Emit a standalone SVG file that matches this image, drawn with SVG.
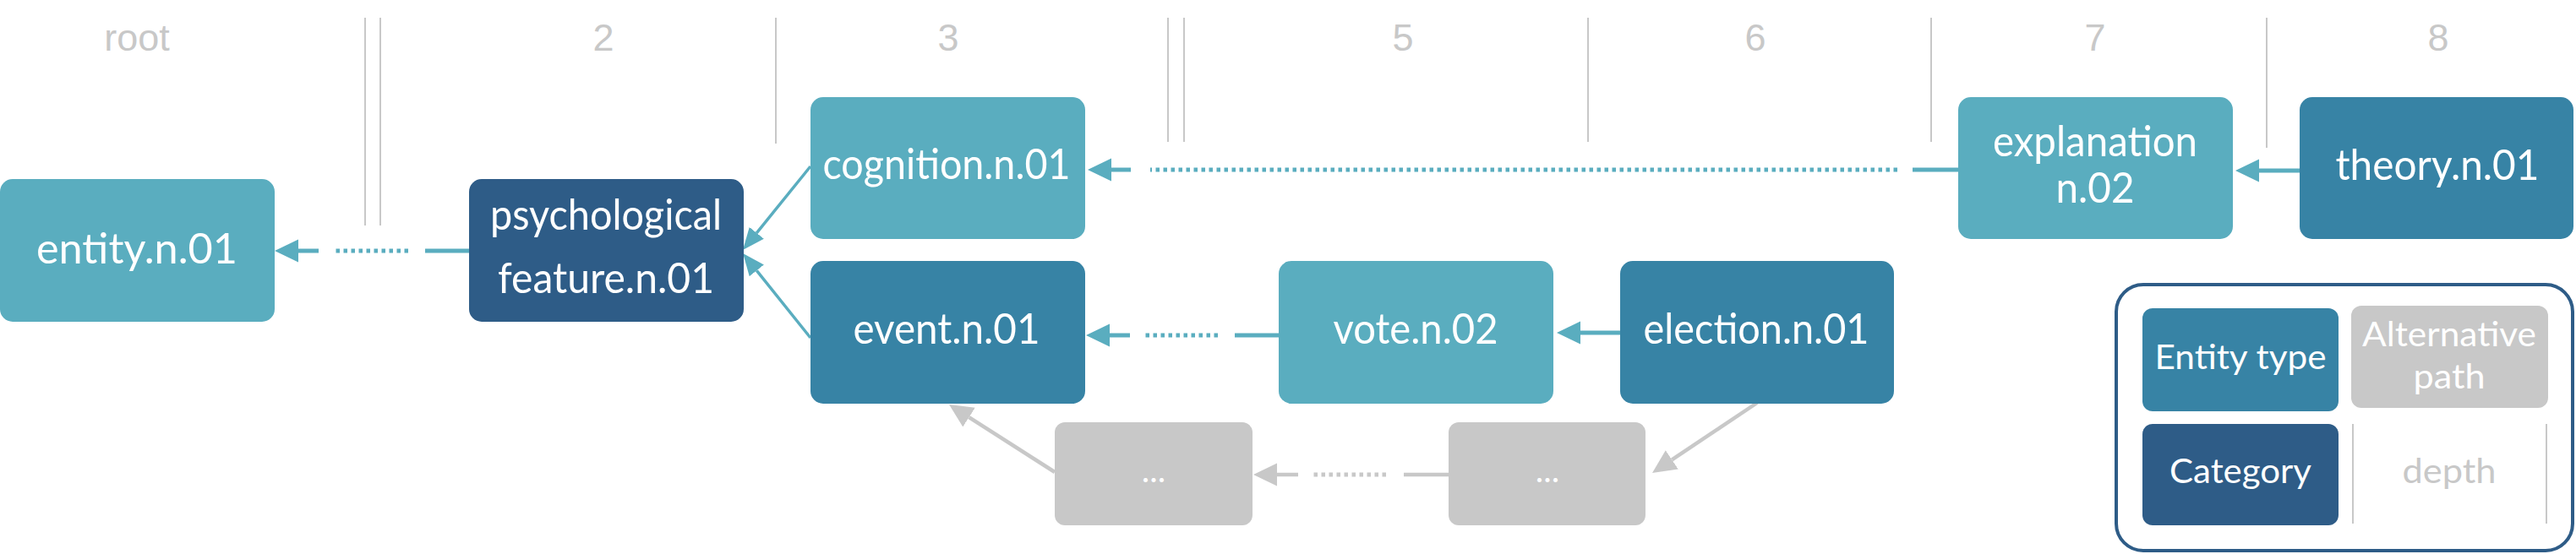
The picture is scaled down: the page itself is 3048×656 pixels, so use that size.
<svg xmlns="http://www.w3.org/2000/svg" width="3048" height="656" viewBox="0 0 3048 656">
<style>
.hdr{font-family:"Liberation Sans",Arial,sans-serif;font-size:45px;fill:#C8C8C8;text-anchor:middle}
.sep{stroke:#C8C8C8;stroke-width:2;fill:none}
.nt{font-family:Lato,"Open Sans",sans-serif;font-size:50px;fill:#FFFFFF;text-anchor:middle}
.lt{font-family:Lato,"Open Sans",sans-serif;font-size:41px;fill:#FFFFFF;text-anchor:middle}
.light{fill:#5AADBF}
.mid{fill:#3783A5}
.dark{fill:#2E5C87}
.grey{fill:#C8C8C8}
.tl{stroke:#5AADBF;stroke-width:5;fill:none}
.td{stroke:#5AADBF;stroke-width:5;fill:none;stroke-dasharray:4.5 4.5}
.tdiag{stroke:#5AADBF;stroke-width:3.5;fill:none}
.gl{stroke:#C8C8C8;stroke-width:4.5;fill:none}
.gd{stroke:#C8C8C8;stroke-width:5;fill:none;stroke-dasharray:4.5 4.5}
</style>
<defs>
<marker id="ahT" viewBox="0 -14 28 28" refX="0" refY="0" markerWidth="28" markerHeight="28" markerUnits="userSpaceOnUse" orient="auto"><path d="M0,-13.5 L28,0 L0,13.5 z" fill="#5AADBF"/></marker>
<marker id="ahTs" viewBox="0 -12 26 24" refX="0" refY="0" markerWidth="26" markerHeight="24" markerUnits="userSpaceOnUse" orient="auto"><path d="M0,-11 L26,0 L0,11 z" fill="#5AADBF"/></marker>
<marker id="ahG" viewBox="0 -14 28 28" refX="0" refY="0" markerWidth="28" markerHeight="28" markerUnits="userSpaceOnUse" orient="auto"><path d="M0,-13.5 L28,0 L0,13.5 z" fill="#C8C8C8"/></marker>
</defs>

<g id="depth-header">
<text class="hdr" x="162" y="60">root</text>
<text class="hdr" x="714" y="60">2</text>
<text class="hdr" x="1122" y="60">3</text>
<text class="hdr" x="1660" y="60">5</text>
<text class="hdr" x="2077" y="60">6</text>
<text class="hdr" x="2479" y="60">7</text>
<text class="hdr" x="2885" y="60">8</text>
<path class="sep" d="M432,21 V267 M450,21 V267 M918,21 V170 M1382,21 V168 M1401,21 V168 M1879,21 V168 M2285,21 V168 M2682,21 V175"/>
</g>

<g id="connectors">
<g id="c-psych-entity"><path class="tl" d="M555,297 H503"/><path class="td" d="M483,297 H396"/><path class="tl" d="M377,297 H353" marker-end="url(#ahT)"/></g>
<g id="c-cognition-psych"><path class="tdiag" d="M959,197 L895.3,275.8" marker-end="url(#ahTs)"/></g>
<g id="c-event-psych"><path class="tdiag" d="M959,400 L895.3,320.3" marker-end="url(#ahTs)"/></g>
<g id="c-explanation-cognition"><path class="tl" d="M2317,201 H2263"/><path class="td" d="M2245,201 H1361"/><path class="tl" d="M1338,201 H1315" marker-end="url(#ahT)"/></g>
<g id="c-vote-event"><path class="tl" d="M1513,397 H1461"/><path class="td" d="M1441,397 H1353"/><path class="tl" d="M1337,397 H1313" marker-end="url(#ahT)"/></g>
<g id="c-election-vote"><path class="tl" d="M1917,394 H1870" marker-end="url(#ahT)"/></g>
<g id="c-theory-explanation"><path class="tl" d="M2721,202 H2673" marker-end="url(#ahT)"/></g>
<g id="c-election-alt2"><path class="gl" d="M2079,477 L1978.3,544.4" marker-end="url(#ahG)"/></g>
<g id="c-alt2-alt1"><path class="gl" d="M1714,562 H1661"/><path class="gd" d="M1640,562 H1553"/><path class="gl" d="M1536,562 H1511" marker-end="url(#ahG)"/></g>
<g id="c-alt1-event"><path class="gl" d="M1248,559 L1146.6,494.1" marker-end="url(#ahG)"/></g>
</g>

<g id="n-entity"><rect class="light" x="0" y="212" width="325" height="169" rx="15"/><text class="nt" x="162" y="312" textLength="238" lengthAdjust="spacingAndGlyphs">entity.n.01</text></g>
<g id="n-psych"><rect class="dark" x="555" y="212" width="325" height="169" rx="15"/><text class="nt" x="717" y="272" textLength="274" lengthAdjust="spacingAndGlyphs">psychological</text><text class="nt" x="717" y="347" textLength="256" lengthAdjust="spacingAndGlyphs">feature.n.01</text></g>
<g id="n-cognition"><rect class="light" x="959" y="115" width="325" height="168" rx="15"/><text class="nt" x="1120" y="212" textLength="293" lengthAdjust="spacingAndGlyphs">cognition.n.01</text></g>
<g id="n-event"><rect class="mid" x="959" y="309" width="325" height="169" rx="15"/><text class="nt" x="1120" y="407" textLength="221" lengthAdjust="spacingAndGlyphs">event.n.01</text></g>
<g id="n-vote"><rect class="light" x="1513" y="309" width="325" height="169" rx="15"/><text class="nt" x="1675" y="407" textLength="195" lengthAdjust="spacingAndGlyphs">vote.n.02</text></g>
<g id="n-election"><rect class="mid" x="1917" y="309" width="324" height="169" rx="15"/><text class="nt" x="2078" y="407" textLength="267" lengthAdjust="spacingAndGlyphs">election.n.01</text></g>
<g id="n-explanation"><rect class="light" x="2317" y="115" width="325" height="168" rx="15"/><text class="nt" x="2479" y="185" textLength="242" lengthAdjust="spacingAndGlyphs">explanation</text><text class="nt" x="2479" y="240" textLength="93" lengthAdjust="spacingAndGlyphs">n.02</text></g>
<g id="n-theory"><rect class="mid" x="2721" y="115" width="324" height="168" rx="15"/><text class="nt" x="2884" y="213" textLength="241" lengthAdjust="spacingAndGlyphs">theory.n.01</text></g>
<g id="n-alt1"><rect class="grey" x="1248" y="500" width="234" height="122" rx="12"/><text class="nt" x="1365" y="571" style="font-size:40px">...</text></g>
<g id="n-alt2"><rect class="grey" x="1714" y="500" width="233" height="122" rx="12"/><text class="nt" x="1831" y="571" style="font-size:40px">...</text></g>

<g id="legend">
<rect x="2504" y="337" width="540" height="315" rx="32" fill="#FFFFFF" stroke="#2E5C87" stroke-width="4"/>
<g id="legend-entity-type"><rect class="mid" x="2535" y="365" width="232" height="122" rx="12"/><text class="lt" x="2651" y="437" textLength="203" lengthAdjust="spacingAndGlyphs">Entity type</text></g>
<g id="legend-alternative"><rect class="grey" x="2782" y="362" width="233" height="121" rx="12"/><text class="lt" x="2898" y="410" textLength="206" lengthAdjust="spacingAndGlyphs">Alternative</text><text class="lt" x="2898" y="460" textLength="85" lengthAdjust="spacingAndGlyphs">path</text></g>
<g id="legend-category"><rect class="dark" x="2535" y="502" width="232" height="120" rx="12"/><text class="lt" x="2651" y="572" textLength="168" lengthAdjust="spacingAndGlyphs">Category</text></g>
<g id="legend-depth"><path class="sep" d="M2784,502 V620 M3013,502 V620"/><text class="lt" x="2898" y="572" style="fill:#C8C8C8" textLength="111" lengthAdjust="spacingAndGlyphs">depth</text></g>
</g>
</svg>
